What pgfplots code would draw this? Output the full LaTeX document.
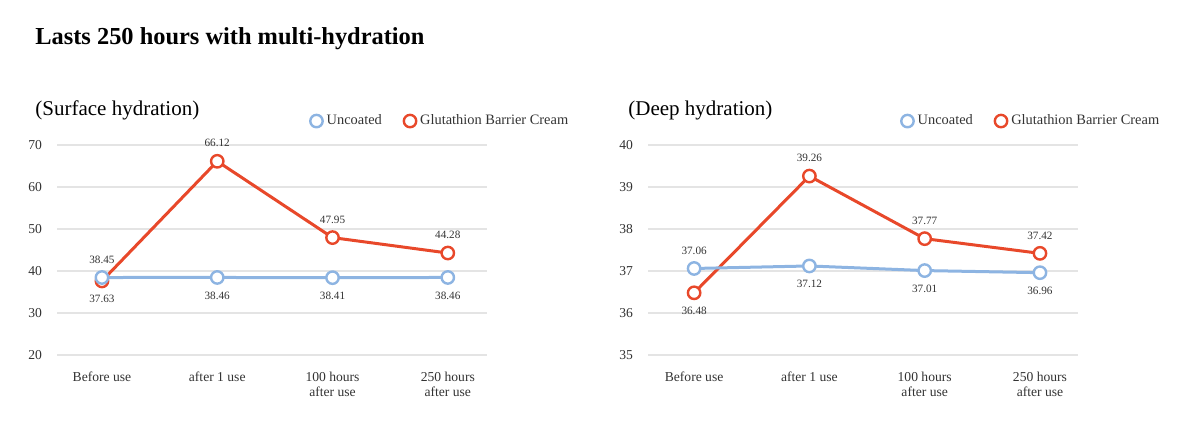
\documentclass[border=0pt]{standalone}
\usepackage{pgfplots}
\pgfplotsset{compat=1.18}
\usepackage{pgfplotstable}
\usepackage{fontspec}
\setmainfont{Liberation Serif}

\definecolor{uncoated}{HTML}{8DB4E2}
\definecolor{cream}{HTML}{E8482A}
\definecolor{gridgray}{HTML}{E4E4E4}
\definecolor{labelgray}{HTML}{333333}

% Surface hydration
\pgfplotstableread{
x y
0 38.45
1 38.46
2 38.41
3 38.46
}\surfU
\pgfplotstableread{
x y
0 37.63
1 66.12
2 47.95
3 44.28
}\surfG

% Deep hydration
\pgfplotstableread{
x y
0 37.06
1 37.12
2 37.01
3 36.96
}\deepU
\pgfplotstableread{
x y
0 36.48
1 39.26
2 37.77
3 37.42
}\deepG

\tikzset{
  ser/.style={color=#1, line width=1.5pt, mark=*, mark size=3.1pt,
    mark options={fill=white, draw=#1, line width=1.2pt, solid}},
}

\pgfplotsset{
  hydr/.style={
    scale only axis, width=215pt, height=105pt,
    xmin=-0.39, xmax=3.34,
    xtick={0,1,2,3},
    xticklabels={Before use, after 1 use, {100 hours\\after use}, {250 hours\\after use}},
    axis line style={draw=none}, major tick style={draw=none},
    ymajorgrids, grid style={gridgray, line width=0.6pt},
    xticklabel style={font=\fontsize{6.8}{7.5}\selectfont, align=center, yshift=-5pt, text=labelgray},
    yticklabel style={font=\fontsize{6.8}{7}\selectfont, xshift=-4pt, text=labelgray},
    /pgf/number format/assume math mode=true,
    clip=false,
    legend style={draw=none, fill=none, font=\fontsize{7.2}{8}\selectfont,
      legend columns=-1, at={(1.213,1.114)}, anchor=east, text=labelgray,
      /tikz/every even column/.append style={column sep=9pt}},
    legend image code/.code={\draw[##1] plot coordinates {(0pt,0pt)};},
  },
  % value labels: #1 is the usual side, the first point takes side #2
  lbl/.style 2 args={nodes near coords, point meta=explicit symbolic,
    visualization depends on={value \coordindex \as \ci},
    every node near coord/.append style={
      font=\fontsize{5.6}{6}\selectfont, text=labelgray,
      inner xsep=0pt, inner ysep=6.5pt},
    every node near coord/.append code={%
      \ifnum\ci=0 \pgfkeysalso{anchor=#2}\else\pgfkeysalso{anchor=#1}\fi}},
}

\begin{document}
\begin{tikzpicture}
\path[use as bounding box] (0,0) rectangle (600pt,222pt);

\node[anchor=base west, inner sep=0pt, font=\fontsize{12.2}{14}\selectfont\bfseries] at (17.5pt,199.5pt)
  {Lasts 250 hours with multi-hydration};
\node[anchor=base west, inner sep=0pt, font=\fontsize{10.5}{12}\selectfont] at (17.5pt,164pt)
  {(Surface hydration)};
\node[anchor=base west, inner sep=0pt, font=\fontsize{10.5}{12}\selectfont] at (314pt,164pt)
  {(Deep hydration)};

\begin{axis}[hydr, at={(28.5pt,44.5pt)}, anchor=south west,
  ymin=20, ymax=70, ytick={20,30,40,50,60,70}]
  \addlegendimage{ser=uncoated}
  \addlegendentry{Uncoated}
  \addlegendimage{ser=cream}
  \addlegendentry{Glutathion Barrier Cream}
  \addplot[ser=cream, lbl={south}{north}, forget plot] table[x=x, y=y, meta=y] {\surfG};
  \addplot[ser=uncoated, lbl={north}{south}, forget plot] table[x=x, y=y, meta=y] {\surfU};
\end{axis}

\begin{axis}[hydr, at={(324pt,44.5pt)}, anchor=south west,
  xmin=-0.4, xmax=3.33,
  ymin=35, ymax=40, ytick={35,36,37,38,39,40}]
  \addlegendimage{ser=uncoated}
  \addlegendentry{Uncoated}
  \addlegendimage{ser=cream}
  \addlegendentry{Glutathion Barrier Cream}
  \addplot[ser=cream, lbl={south}{north}, forget plot] table[x=x, y=y, meta=y] {\deepG};
  \addplot[ser=uncoated, lbl={north}{south}, forget plot] table[x=x, y=y, meta=y] {\deepU};
\end{axis}
\end{tikzpicture}
\end{document}
